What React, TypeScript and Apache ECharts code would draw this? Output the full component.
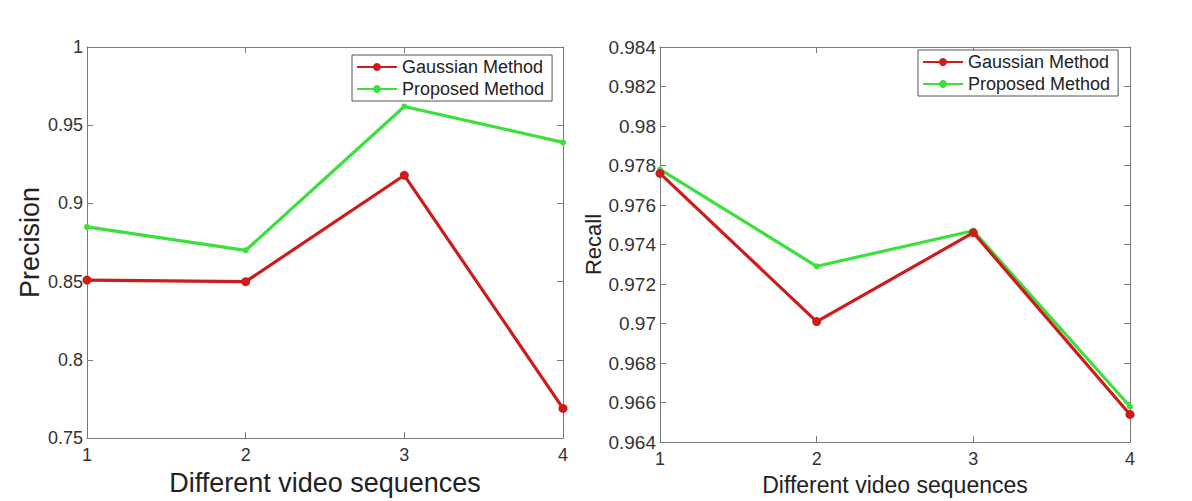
import React, { useEffect, useRef } from "react";
import * as echarts from "echarts";

const xValues = [1, 2, 3, 4];
const seriesNames = ["Gaussian Method", "Proposed Method"];
const precisionGaussian = [0.851, 0.85, 0.918, 0.769];
const precisionProposed = [0.885, 0.87, 0.962, 0.939];
const recallGaussian = [0.9776, 0.9701, 0.9746, 0.9654];
const recallProposed = [0.9778, 0.9729, 0.9747, 0.9658];

const RED = "#cc1c1c";
const GREEN = "#3ce03c";
const AXIS = "#7a7a7a";
const FONT = "Liberation Sans, Arial, sans-serif";

function fmt(v: number) {
  return String(parseFloat(v.toFixed(3)));
}

export default function App() {
  const ref = useRef<HTMLDivElement>(null);
  useEffect(() => {
    if (!ref.current) return;
    const chart = echarts.init(ref.current, null, { renderer: "svg" });
    const pair = (xs: number[], ys: number[]) => xs.map((x, i) => [x, ys[i]]);
    const mkX = (gi: number, pos: "bottom" | "top", name: string, nameSize: number, nameGap: number) => ({
      type: "value",
      gridIndex: gi,
      position: pos,
      min: 1,
      max: 4,
      interval: 1,
      name: pos === "bottom" ? name : "",
      nameLocation: "middle",
      nameGap,
      nameTextStyle: { fontSize: nameSize, color: "#222", fontFamily: FONT },
      axisLine: { show: true, onZero: false, lineStyle: { color: AXIS, width: 1 } },
      axisTick: { show: true, inside: true, length: 6, lineStyle: { color: AXIS } },
      axisLabel: {
        show: pos === "bottom",
        fontSize: 18,
        color: "#333",
        fontFamily: FONT,
        margin: 8,
      },
      splitLine: { show: false },
    });
    const mkY = (
      gi: number,
      pos: "left" | "right",
      min: number,
      max: number,
      interval: number,
      name: string,
      nameSize: number,
      nameGap: number,
      labelSize: number
    ) => ({
      type: "value",
      gridIndex: gi,
      position: pos,
      min,
      max,
      interval,
      name: pos === "left" ? name : "",
      nameLocation: "middle",
      nameRotate: 90,
      nameGap,
      nameTextStyle: { fontSize: nameSize, color: "#222", fontFamily: FONT },
      axisLine: { show: true, onZero: false, lineStyle: { color: AXIS, width: 1 } },
      axisTick: { show: true, inside: true, length: 6, lineStyle: { color: AXIS } },
      axisLabel: {
        show: pos === "left",
        fontSize: labelSize,
        color: "#333",
        fontFamily: FONT,
        margin: 4,
        formatter: (v: number) => fmt(v),
      },
      splitLine: { show: false },
    });
    const mkSeries = (name: string, data: number[][], gi: number, color: string, size: number) => ({
      type: "line",
      name,
      xAxisIndex: gi * 2,
      yAxisIndex: gi * 2,
      data,
      symbol: "circle",
      symbolSize: size,
      showSymbol: true,
      lineStyle: { color, width: 3.2 },
      itemStyle: { color },
      z: name === seriesNames[0] ? 3 : 2,
    });
    const legendBase = {
      orient: "vertical",
      itemWidth: 40,
      itemHeight: 10,
      itemGap: 4,
      padding: [3, 8, 3, 4],
      borderColor: "#555",
      borderWidth: 1,
      borderRadius: 0,
      backgroundColor: "#fff",
      textStyle: { fontSize: 18, color: "#222", fontFamily: FONT },
      data: seriesNames,
      selectedMode: false,
    };
    chart.setOption({
      animation: false,
      backgroundColor: "#fff",
      grid: [
        { left: 87, top: 47, width: 476, height: 401 },
        { left: 660, top: 47, width: 470, height: 399 },
      ],
      xAxis: [
        mkX(0, "bottom", "Different video sequences", 27, 28),
        mkX(0, "top", "", 27, 28),
        mkX(1, "bottom", "Different video sequences", 23, 14),
        mkX(1, "top", "", 23, 14),
      ],
      yAxis: [
        mkY(0, "left", 0.75, 1, 0.05, "Precision", 27, 44, 18),
        mkY(0, "right", 0.75, 1, 0.05, "", 27, 44, 18),
        mkY(1, "left", 0.964, 0.984, 0.002, "Recall", 22, 55, 19),
        mkY(1, "right", 0.964, 0.984, 0.002, "", 22, 55, 19),
      ],
      legend: [
        { ...legendBase, left: 352, top: 55 },
        { ...legendBase, left: 918, top: 50 },
      ],
      series: [
        mkSeries(seriesNames[0], pair(xValues, precisionGaussian), 0, RED, 9),
        mkSeries(seriesNames[1], pair(xValues, precisionProposed), 0, GREEN, 6),
        mkSeries(seriesNames[0], pair(xValues, recallGaussian), 1, RED, 9),
        mkSeries(seriesNames[1], pair(xValues, recallProposed), 1, GREEN, 6),
      ],
    });
    return () => chart.dispose();
  }, []);
  return (
    <div
      ref={ref}
      style={{ position: "fixed", left: 0, top: 0, width: 1192, height: 501, background: "#fff" }}
    />
  );
}
